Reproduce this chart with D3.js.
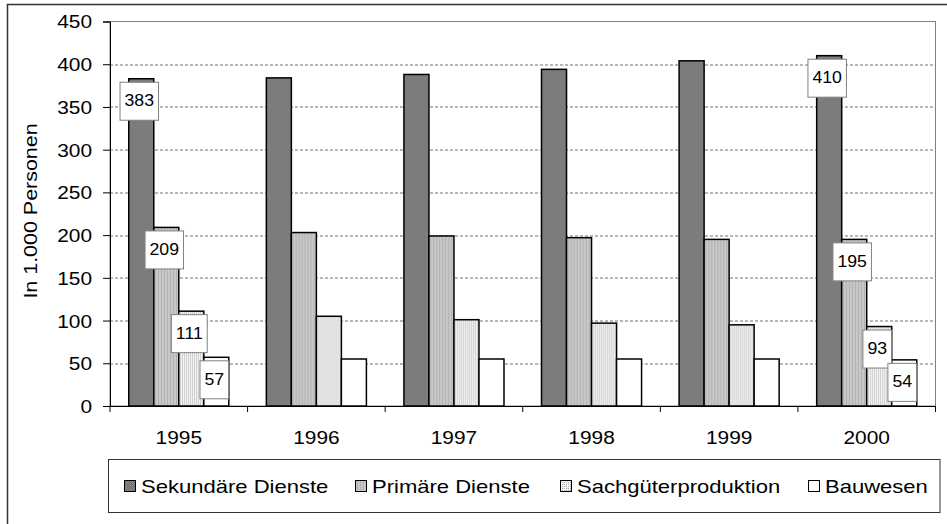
<!DOCTYPE html>
<html>
<head>
<meta charset="utf-8">
<script src="https://cdn.jsdelivr.net/npm/d3@7"></script>
<style>
  body { margin: 0; background: #fff; }
  text { font-family: "Liberation Sans", Arial, sans-serif; fill: #000; }
</style>
</head>
<body>
<div id="my_dataviz"></div>
<script>
var Width = 947;
var Height = 524;

// data
var years = ["1995", "1996", "1997", "1998", "1999", "2000"];
var seriesNames = ["Sekundäre Dienste", "Primäre Dienste", "Sachgüterproduktion", "Bauwesen"];
var sekundaer = [383, 384, 388, 394, 404, 410];
var primaer = [209, 203, 199, 197, 195, 195];
var sachgueter = [111, 105, 101, 97, 95, 93];
var bauwesen = [57, 55, 55, 55, 55, 54];
var yTicks = [0, 50, 100, 150, 200, 250, 300, 350, 400, 450];
var labelledYears = ["1995", "2000"];

var allSeries = [sekundaer, primaer, sachgueter, bauwesen];
var fills = ["url(#p1)", "url(#p2)", "url(#p3)", "#fff"];
var stretch = 1.16; // text in the picture is a bit wider than plain Arial

var margin = {top: 21.5, right: 11.5, bottom: 118, left: 110},
    width = Width - margin.left - margin.right,
    height = Height - margin.top - margin.bottom;

var root = d3.select("#my_dataviz")
  .append("svg")
    .attr("width", Width)
    .attr("height", Height);

// patterns for the bar fills
var defs = root.append("defs");
var p1 = defs.append("pattern").attr("id", "p1").attr("width", 2).attr("height", 2).attr("patternUnits", "userSpaceOnUse");
p1.append("rect").attr("width", 2).attr("height", 2).attr("fill", "#858585");
p1.append("rect").attr("width", 1).attr("height", 1).attr("fill", "#727272");
p1.append("rect").attr("x", 1).attr("y", 1).attr("width", 1).attr("height", 1).attr("fill", "#727272");
var p2 = defs.append("pattern").attr("id", "p2").attr("width", 3).attr("height", 3).attr("patternUnits", "userSpaceOnUse");
p2.append("rect").attr("width", 3).attr("height", 3).attr("fill", "#c8c8c8");
p2.append("rect").attr("width", 1).attr("height", 3).attr("fill", "#b2b2b2");
var p3 = defs.append("pattern").attr("id", "p3").attr("width", 2).attr("height", 2).attr("patternUnits", "userSpaceOnUse");
p3.append("rect").attr("width", 2).attr("height", 2).attr("fill", "#f2f2f2");
p3.append("rect").attr("width", 1).attr("height", 1).attr("fill", "#b0b0b0");

// outer frame
root.append("path")
  .attr("d", "M7.5,530 V4.5 H950")
  .attr("fill", "none")
  .attr("stroke", "#333")
  .attr("stroke-width", 1.5);

var svg = root.append("g")
  .attr("transform", "translate(" + margin.left + "," + margin.top + ")");

var x0 = d3.scaleBand().domain(years).range([0, width]).padding(0);
var x1 = d3.scaleBand().domain(d3.range(4)).range([0, x0.bandwidth()]).paddingInner(0).paddingOuter(0.75);
var y = d3.scaleLinear().domain([0, 450]).range([height, 0]);

// plot area border
svg.append("rect")
  .attr("width", width)
  .attr("height", height)
  .attr("fill", "none")
  .attr("stroke", "#808080")
  .attr("stroke-width", 1);

// grid lines
svg.append("g")
  .selectAll("line")
  .data(yTicks.filter(function(d) { return d > 0 && d < 450; }))
  .enter()
  .append("line")
    .attr("x1", 0)
    .attr("x2", width)
    .attr("y1", function(d) { return Math.round(y(d)) + 0.5; })
    .attr("y2", function(d) { return Math.round(y(d)) + 0.5; })
    .attr("stroke", "#707070")
    .attr("stroke-dasharray", "3,2");

// bars
var groups = svg.append("g")
  .selectAll("g")
  .data(years)
  .enter()
  .append("g")
    .attr("transform", function(d) { return "translate(" + x0(d) + ",0)"; });

groups.selectAll("rect")
  .data(function(yr, i) { return allSeries.map(function(s, k) { return {k: k, v: s[i]}; }); })
  .enter()
  .append("rect")
    .attr("x", function(d) { return x1(d.k); })
    .attr("y", function(d) { return y(d.v); })
    .attr("width", x1.bandwidth())
    .attr("height", function(d) { return height - y(d.v); })
    .attr("fill", function(d) { return fills[d.k]; })
    .attr("stroke", "#000")
    .attr("stroke-width", 1.5);

// Y axis
var yAxis = svg.append("g")
  .call(d3.axisLeft(y).tickValues(yTicks).tickSize(7).tickPadding(0));
yAxis.select(".domain").attr("stroke", "#000");
yAxis.selectAll("text")
  .style("font-size", "18px")
  .attr("x", -18 / stretch)
  .attr("dy", "0.36em")
  .attr("transform", "scale(" + stretch + ",1)");

// X axis (labels at band centres, ticks at band edges)
var xAxis = svg.append("g")
  .attr("transform", "translate(0," + height + ")")
  .call(d3.axisBottom(x0).tickSize(0).tickPadding(0));
xAxis.select(".domain").attr("stroke", "#000");
xAxis.selectAll("text")
  .style("font-size", "18px")
  .attr("y", 25)
  .attr("dy", "0.71em")
  .attr("transform", "scale(" + stretch + ",1)");
xAxis.append("g")
  .selectAll("line")
  .data(years.concat(["end"]))
  .enter()
  .append("line")
    .attr("x1", function(d) { return d === "end" ? width : x0(d); })
    .attr("x2", function(d) { return d === "end" ? width : x0(d); })
    .attr("y1", 0)
    .attr("y2", 6)
    .attr("stroke", "#000");

// data labels for 1995 and 2000
labelledYears.forEach(function(yr) {
  var i = years.indexOf(yr);
  allSeries.forEach(function(s, k) {
    var cx = x0(yr) + x1(k) + x1.bandwidth() / 2 - 2;
    var top = y(s[i]) + 3.5;
    var lg = svg.append("g");
    var box = lg.append("rect");
    var t = lg.append("text")
      .attr("text-anchor", "middle")
      .style("font-size", "17px")
      .attr("transform", "translate(" + cx + "," + (top + 24) + ") scale(1.04,1)")
      .text(s[i]);
    var tw = t.node().getComputedTextLength() * 1.04;
    box.attr("x", cx - tw / 2 - 4.5)
      .attr("y", top)
      .attr("width", tw + 9)
      .attr("height", 38)
      .attr("fill", "#fff")
      .attr("stroke", "#808080")
      .attr("stroke-width", 1);
  });
});

// Y axis title
root.append("text")
  .attr("text-anchor", "middle")
  .style("font-size", "18.5px")
  .attr("transform", "translate(37,211) rotate(-90) scale(" + stretch + ",1)")
  .text("In 1.000 Personen");

// legend
var legend = root.append("g");
legend.append("rect")
  .attr("x", 108.5)
  .attr("y", 459.5)
  .attr("width", 831.5)
  .attr("height", 53)
  .attr("fill", "#fff")
  .attr("stroke", "#333")
  .attr("stroke-width", 1);
var legendX = [124, 355, 560, 808];
seriesNames.forEach(function(name, k) {
  legend.append("rect")
    .attr("x", legendX[k] + 0.5)
    .attr("y", 480.5)
    .attr("width", 11)
    .attr("height", 11)
    .attr("fill", fills[k])
    .attr("stroke", "#000")
    .attr("stroke-width", 1);
  legend.append("text")
    .style("font-size", "19px")
    .attr("transform", "translate(" + (legendX[k] + 17) + ",493) scale(" + stretch + ",1)")
    .text(name);
});
</script>
</body>
</html>
